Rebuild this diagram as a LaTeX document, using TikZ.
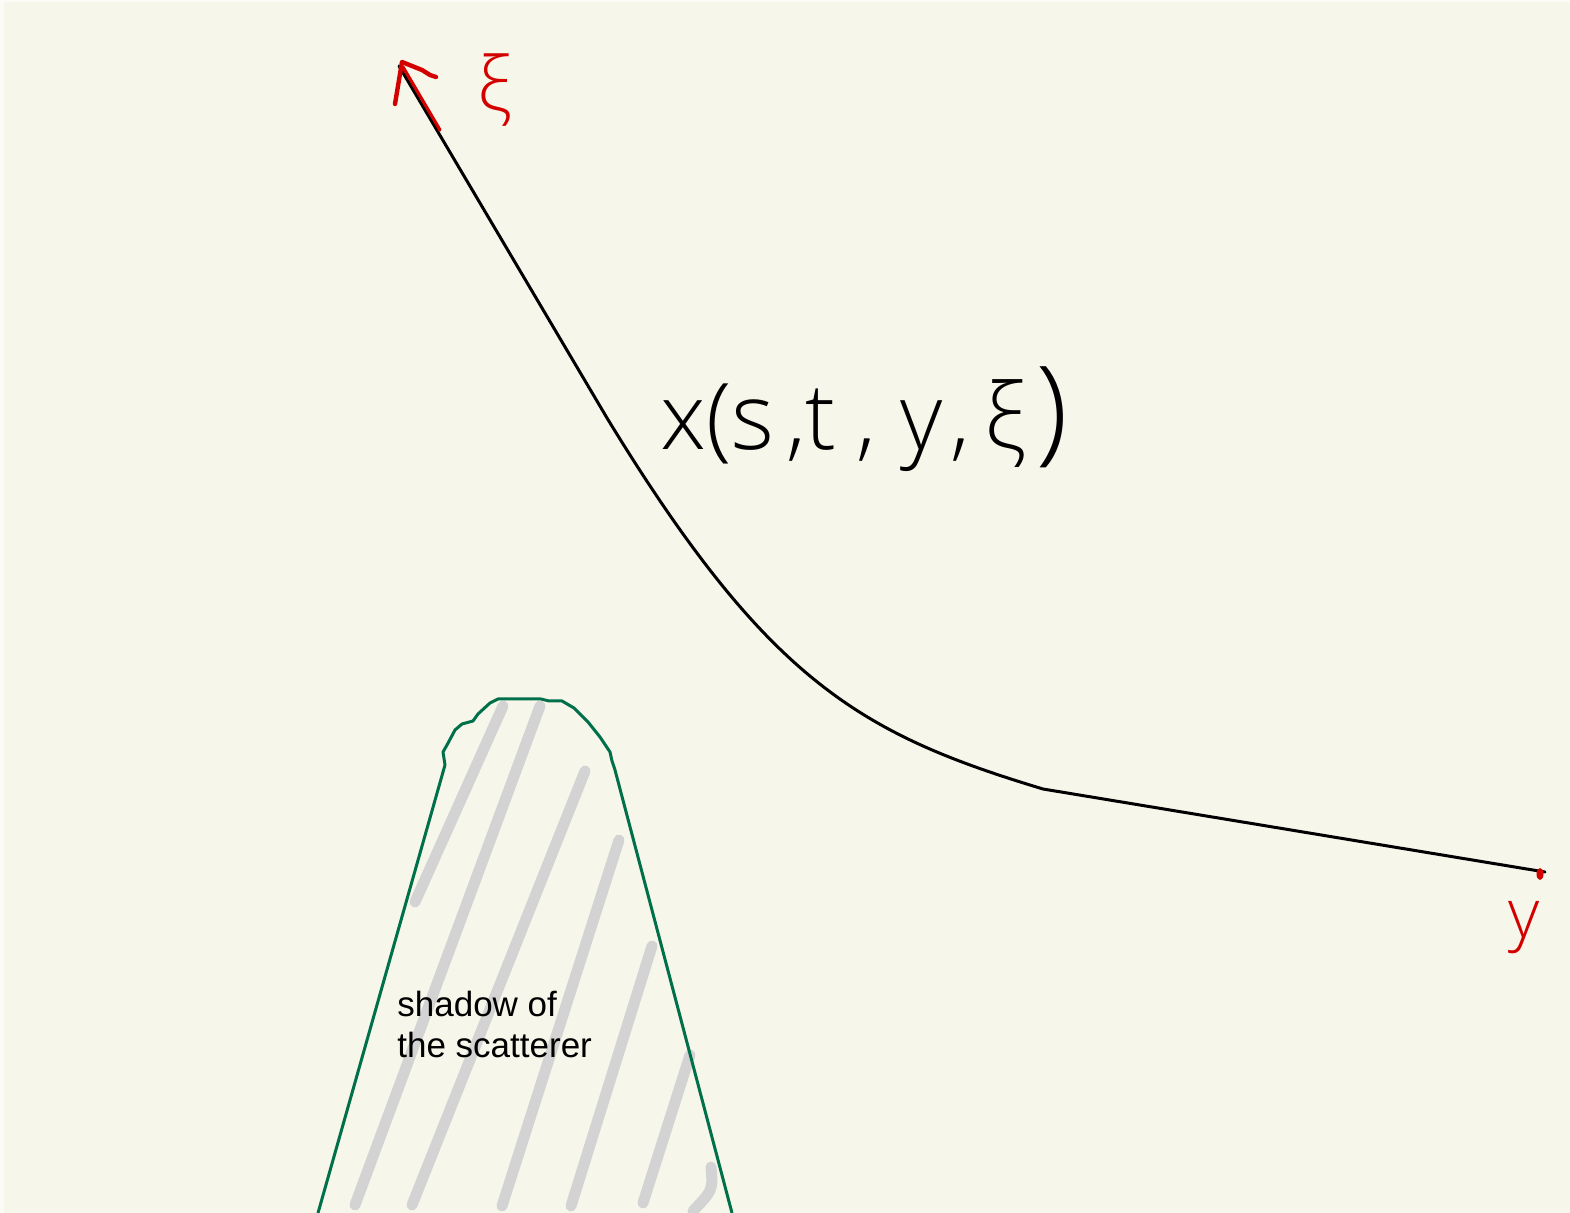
\documentclass[tikz,border=0pt]{standalone}
\usepackage{fontspec}
\setmainfont{Liberation Sans}
\newfontfamily\hand{Open Sans Light}
\definecolor{bg}{HTML}{F7F6EA}
\definecolor{bgedge}{HTML}{FCFCF6}
\definecolor{redink}{HTML}{D40000}
\definecolor{greenink}{HTML}{00704A}
\definecolor{hatch}{HTML}{D3D3D3}
\tikzset{
  curveline/.style={line width=1.5pt, black, line cap=round, line join=round},
  redstroke/.style={line width=2.2pt, redink, line cap=round, line join=round},
  outline/.style={line width=1.5pt, greenink, line join=round},
  hatchline/.style={line width=5.5pt, hatch, line cap=round},
  handtext/.style={inner sep=0pt, font=\hand\fontsize{46}{46}\selectfont},
  redlabel/.style={inner sep=0pt, text=redink, font=\hand\fontsize{38}{38}\selectfont},
  caption/.style={inner sep=0pt, align=left, font=\fontsize{17.5}{20.5}\selectfont}
}
\begin{document}
\begin{tikzpicture}[x=0.5pt, y=-0.5pt]
\useasboundingbox (0,0) rectangle (1570,1213);
\fill[bg] (0,0) rectangle (1570,1213);
\fill[bgedge] (0,0) rectangle (4,1213);
\fill[bgedge] (0,0) rectangle (1570,2);

% hatch lines of the shadow
\draw[hatchline] (503,706) -- (415,902);
\draw[hatchline] (540,706) -- (355,1205);
\draw[hatchline] (585,771) -- (412,1205);
\draw[hatchline] (619,840) -- (502,1206);
\draw[hatchline] (652,946) -- (571,1206);
\draw[hatchline] (690,1055) -- (643,1203);
\draw[hatchline] (711,1167) .. controls (713,1190) .. (693,1211);

% shadow outline
\draw[outline] (318,1213) -- (445,765) -- (443,752) -- (447,745) -- (455,730) -- (462,724)
  -- (473,721) -- (478,714) -- (490,703) -- (498,699) -- (541,699) -- (549,701) -- (562,701)
  -- (574,708) -- (588,722) -- (600,737) -- (610,752) -- (612,761) -- (615,770) -- (732,1213);

\node[caption, anchor=base west] (cap) at (397,1057) {shadow of\\the scatterer};

% main path
\coordinate (xi0) at (399,66);
\coordinate (k1) at (607,418);
\coordinate (k2) at (1043,789);
\coordinate (yend) at (1545,872);
\draw[curveline] (xi0) -- (k1) .. controls (768,682) and (861,734) .. (k2) -- (yend);

% red arrow at xi
\coordinate (tip) at (402,62);
\draw[redstroke, line width=1.6pt] (440,130) -- (403,67);
\draw[redstroke] (395,104) -- (tip) -- (412,66) -- (422,70) -- (430,75) -- (436,77);
\node[redlabel, anchor=base west] (xi) at (477,112) {ξ};

% red dot and y label
\fill[redink] (1540,874) ellipse (3.5 and 6);
\node[redlabel, anchor=base west, font=\hand\fontsize{34}{34}\selectfont] (ylab) at (1508,937) {y};

% handwritten label
\node[handtext, anchor=base west] (xlab) at (660,450)
  {x(s\hspace{6pt},t\hspace{10pt},\hspace{12pt}y\hspace{4pt},\hspace{7pt}ξ\hspace{5pt}{\fontsize{58}{58}\selectfont )}};
\end{tikzpicture}
\end{document}
